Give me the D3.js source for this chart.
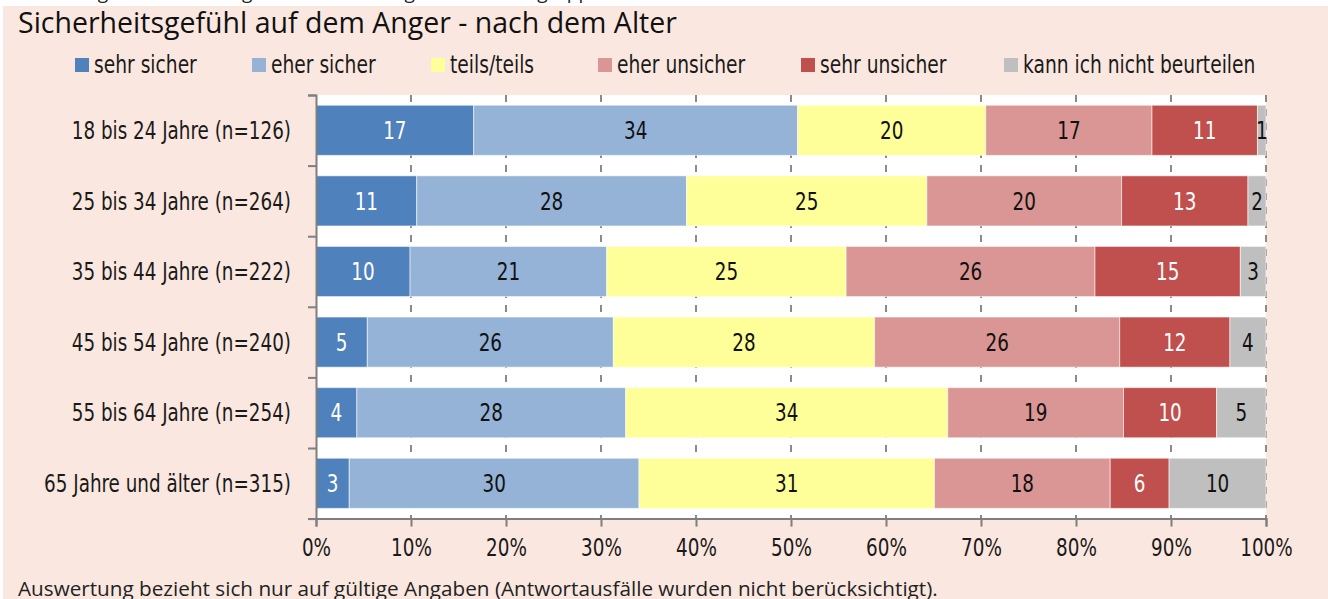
<!DOCTYPE html>
<html>
<head>
<meta charset="utf-8">
<script src="https://cdn.jsdelivr.net/npm/d3@7"></script>
<style>
  html, body { margin: 0; padding: 0; background: #ffffff; }
  svg { display: block; }
  .cond { font-family: "DejaVu Sans Condensed", "Liberation Sans Narrow", sans-serif; font-stretch: condensed; }
  .hum { font-family: "Open Sans", "Noto Sans", sans-serif; }
</style>
</head>
<body>
<script>
// ---- data ----
const categories = [
  "18 bis 24 Jahre (n=126)",
  "25 bis 34 Jahre (n=264)",
  "35 bis 44 Jahre (n=222)",
  "45 bis 54 Jahre (n=240)",
  "55 bis 64 Jahre (n=254)",
  "65 Jahre und älter (n=315)"
];
const seriesNames = ["sehr sicher", "eher sicher", "teils/teils", "eher unsicher", "sehr unsicher", "kann ich nicht beurteilen"];
// values (share in %) per series, one entry per category
const sehrSicher     = [16.6, 10.6,  9.9,  5.4,  4.3,  3.5];
const eherSicher     = [34.1, 28.4, 20.7, 25.9, 28.3, 30.5];
const teilsTeils     = [19.8, 25.3, 25.2, 27.5, 33.9, 31.1];
const eherUnsicher   = [17.5, 20.5, 26.2, 25.8, 18.5, 18.5];
const sehrUnsicher   = [11.1, 13.3, 15.3, 11.6,  9.8,  6.2];
const kannNicht      = [ 0.9,  1.9,  2.7,  3.8,  5.2, 10.2];
// printed labels
const labelsSehrSicher   = [17, 11, 10, 5, 4, 3];
const labelsEherSicher   = [34, 28, 21, 26, 28, 30];
const labelsTeils        = [20, 25, 25, 28, 34, 31];
const labelsEherUnsicher = [17, 20, 26, 26, 19, 18];
const labelsSehrUnsicher = [11, 13, 15, 12, 10, 6];
const labelsKann         = [1, 2, 3, 4, 5, 10];
const xTicks = [0, 10, 20, 30, 40, 50, 60, 70, 80, 90, 100];

const colors = ["#4F81BD", "#95B3D7", "#FFFF99", "#D99694", "#C0504D", "#BFBFBF"];
const textColors = ["#ffffff", "#111111", "#111111", "#111111", "#ffffff", "#111111"];

const seriesValues = [sehrSicher, eherSicher, teilsTeils, eherUnsicher, sehrUnsicher, kannNicht];
const seriesLabels = [labelsSehrSicher, labelsEherSicher, labelsTeils, labelsEherUnsicher, labelsSehrUnsicher, labelsKann];

const table = categories.map((c, i) => {
  const row = { cat: c };
  seriesNames.forEach((s, j) => { row[s] = seriesValues[j][i]; });
  return row;
});

// ---- layout ----
const W = 1328, H = 599;
const SX = 0.85;       // horizontal compression for the condensed text face
const FS = 24;         // condensed text size
const svg = d3.select("body").append("svg").attr("width", W).attr("height", H);

svg.append("rect").attr("x", 3).attr("y", 6).attr("width", W - 3).attr("height", H - 6).attr("fill", "#FAE8E0");

// cut-off caption line at very top
svg.append("text").attr("class", "hum").attr("x", 18).attr("y", -1.5)
  .attr("font-size", 19).attr("fill", "#222")
  .text("Abbildung 18: Sicherheitsgefühl auf dem Anger nach Altersgruppen");

svg.append("text").attr("class", "hum").attr("x", 18).attr("y", 33)
  .attr("font-size", 28.5).attr("fill", "#111")
  .text("Sicherheitsgefühl auf dem Anger - nach dem Alter");

const pLeft = 316, pRight = 1266, pTop = 95, pBottom = 518.6;

const x = d3.scaleLinear().domain([0, 100]).range([pLeft, pRight]);
const y = d3.scaleBand().domain(categories).range([pTop, pBottom]).paddingInner(0.29).paddingOuter(0.145);
const yEdge = d3.scaleLinear().domain([0, categories.length]).range([pTop, pBottom]);

// plot area
svg.append("rect").attr("x", pLeft).attr("y", pTop).attr("width", pRight - pLeft).attr("height", pBottom - pTop).attr("fill", "#ffffff");

// gridlines
svg.append("g").selectAll("line").data(xTicks.slice(1)).join("line")
  .attr("x1", d => x(d)).attr("x2", d => x(d))
  .attr("y1", pTop).attr("y2", pBottom)
  .attr("stroke", "#8a8a8a").attr("stroke-width", 2).attr("stroke-dasharray", "7,7");

// stacked bars
const stack = d3.stack().keys(seriesNames);
const stacked = stack(table);

const layers = svg.append("g").selectAll("g").data(stacked).join("g")
  .attr("fill", (d, i) => colors[i]);

layers.selectAll("rect").data(d => d).join("rect")
  .attr("x", d => x(d[0]))
  .attr("width", d => x(d[1]) - x(d[0]))
  .attr("y", d => y(d.data.cat))
  .attr("height", y.bandwidth())
  .attr("stroke", "rgba(255,255,255,0.55)")
  .attr("stroke-width", 1);

// labels
stacked.forEach((layer, j) => {
  svg.append("g").selectAll("text").data(layer).join("text")
    .attr("class", "cond")
    .attr("transform", d => `translate(${(x(d[0]) + x(d[1])) / 2},${y(d.data.cat) + y.bandwidth() / 2}) scale(${SX},1)`)
    .attr("dy", "0.36em")
    .attr("text-anchor", "middle")
    .attr("font-size", FS)
    .attr("fill", textColors[j])
    .text((d, i) => seriesLabels[j][i]);
});

// y axis
const yAxisG = svg.append("g").attr("transform", `translate(${pLeft},0)`)
  .call(d3.axisLeft(yEdge).tickValues(d3.range(categories.length + 1)).tickFormat("").tickSizeOuter(0).tickSize(8));
yAxisG.select(".domain").attr("stroke", "#7f7f7f").attr("stroke-width", 2);
yAxisG.selectAll(".tick line").attr("stroke", "#7f7f7f").attr("stroke-width", 2);

// category labels
svg.append("g").selectAll("text").data(categories).join("text")
  .attr("class", "cond")
  .attr("transform", d => `translate(291,${y(d) + y.bandwidth() / 2}) scale(${SX},1)`)
  .attr("dy", "0.36em")
  .attr("text-anchor", "end")
  .attr("font-size", FS)
  .attr("fill", "#1a1a1a")
  .text(d => d);

// x axis
const xAxisG = svg.append("g").attr("transform", `translate(0,${pBottom})`)
  .call(d3.axisBottom(x).tickValues(xTicks).tickFormat(d => d + "%").tickSizeOuter(0).tickSize(8).tickPadding(12));
xAxisG.select(".domain").attr("stroke", "#7f7f7f").attr("stroke-width", 2);
xAxisG.selectAll(".tick line").attr("stroke", "#7f7f7f").attr("stroke-width", 2);
xAxisG.selectAll(".tick text").attr("class", "cond").attr("font-size", FS).attr("fill", "#1a1a1a")
  .attr("transform", `scale(${SX},1)`);

// legend
const legendX = [75, 252, 431, 598, 801, 1004];
const lg = svg.append("g").selectAll("g").data(seriesNames).join("g")
  .attr("transform", (d, i) => `translate(${legendX[i]},0)`);
lg.append("rect").attr("x", 0).attr("y", 58).attr("width", 14).attr("height", 14).attr("fill", (d, i) => colors[i]);
lg.append("text").attr("class", "cond").attr("transform", `translate(19,73) scale(0.865,1)`)
  .attr("font-size", FS).attr("fill", "#1a1a1a").text(d => d);

// footnote
svg.append("text").attr("class", "hum").attr("x", 18).attr("y", 596)
  .attr("font-size", 20.7).attr("fill", "#222")
  .text("Auswertung bezieht sich nur auf gültige Angaben (Antwortausfälle wurden nicht berücksichtigt).");
</script>
</body>
</html>
